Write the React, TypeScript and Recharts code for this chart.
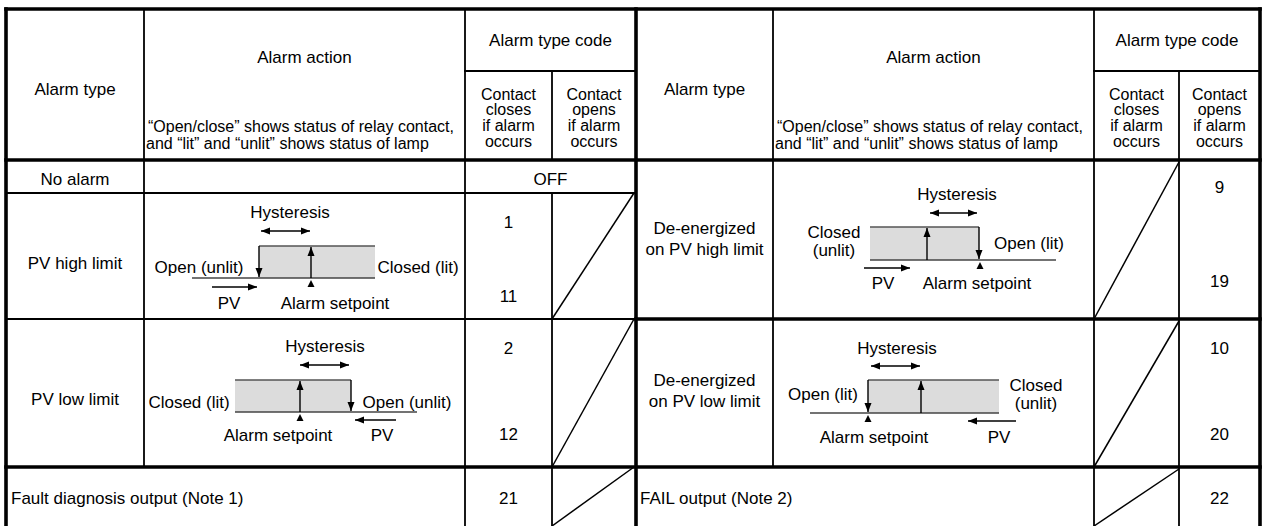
import { ReferenceArea, ReferenceLine, Scatter, ScatterChart, XAxis, YAxis } from 'recharts'

// ---- table content ----
const HEADER_TYPE = 'Alarm type'
const HEADER_ACTION = 'Alarm action'
const HEADER_NOTE = [
  '“Open/close” shows status of relay contact,',
  'and “lit” and “unlit” shows status of lamp',
]
const HEADER_CODE = 'Alarm type code'
const CONTACT_CLOSES = ['Contact', 'closes', 'if alarm', 'occurs']
const CONTACT_OPENS = ['Contact', 'opens', 'if alarm', 'occurs']

const LEFT_TYPES = ['No alarm', 'PV high limit', 'PV low limit']
const RIGHT_TYPES = [
  ['De-energized', 'on PV high limit'],
  ['De-energized', 'on PV low limit'],
]
const NO_ALARM_CODE = 'OFF'
const LEFT_CODES = [['1', '11'], ['2', '12']] // contact closes
const RIGHT_CODES = [['9', '19'], ['10', '20']] // contact opens
const FOOTER_TYPES = ['Fault diagnosis output (Note 1)', 'FAIL output (Note 2)']
const FOOTER_CODES = ['21', '22']

const HYSTERESIS = 'Hysteresis'
const PV = 'PV'
const SETPOINT = 'Alarm setpoint'
const STATES = [
  [['Open (unlit)'], ['Closed (lit)']],
  [['Closed (lit)'], ['Open (unlit)']],
  [['Closed', '(unlit)'], ['Open (lit)']],
  [['Open (lit)'], ['Closed', '(unlit)']],
]

// ---- layout (pixels, chart scale is 1:1) ----
const W = 1264
const H = 526
const FONT = "'Liberation Sans', Arial, Helvetica, sans-serif"
const X = { L: 6, c1: 144, c2: 465, c3: 552, M: 636, c5: 773, c6: 1094, c7: 1179, R: 1260 }
const Y = { T: 9, split: 71, H: 160, r1: 193, r2: 319, r3: 467, B: 526 }
const THICK = 3.6
const THIN = 1.8

const GRID = [
  [X.L, Y.T, X.R, Y.T, THICK],
  [X.L, Y.H, X.R, Y.H, THICK],
  [X.L, Y.r3, X.R, Y.r3, THICK],
  [X.M, Y.r2, X.R, Y.r2, THICK],
  [X.L, Y.r2, X.M, Y.r2, THIN],
  [X.L, Y.r1, X.M, Y.r1, THIN],
  [X.c2, Y.split, X.M, Y.split, THIN],
  [X.c6, Y.split, X.R, Y.split, THIN],
  [X.L, Y.T, X.L, Y.B, THICK],
  [X.M, Y.T, X.M, Y.B, THICK],
  [X.R, Y.T, X.R, Y.B, THICK],
  [X.c1, Y.T, X.c1, Y.r3, THIN],
  [X.c2, Y.T, X.c2, Y.B, THIN],
  [X.c3, Y.split, X.c3, Y.H, THIN],
  [X.c3, Y.r1, X.c3, Y.B, THIN],
  [X.c5, Y.T, X.c5, Y.r3, THIN],
  [X.c6, Y.T, X.c6, Y.B, THIN],
  [X.c7, Y.split, X.c7, Y.B, THIN],
]

const DIAGONALS = [
  [X.c3, Y.r2, X.M - 2, Y.r1],
  [X.c3, Y.r3, X.M - 2, Y.r2],
  [X.c3, Y.B, X.M - 2, Y.r3],
  [X.c6, Y.r2, X.c7, Y.H + 2],
  [X.c6, Y.r3, X.c7, Y.r2 + 2],
  [X.c6, Y.B, X.c7, Y.r3 + 2],
]

// box: [x1, x2, top, bottom], base: baseline x range, down/up: arrow x, sp: setpoint marker x
const DIAGRAMS = [
  { box: [259, 375, 246, 278], base: [192, 375], down: 259, up: 311, sp: 311, hyst: [261, 310, 231], hystText: [290, 212], pv: [212, 257, 287], pvText: [229, 303], spText: [335, 303], states: [[199, 267], [418, 267]] },
  { box: [235, 351, 380, 412], base: [235, 417], down: 351, up: 300, sp: 300, hyst: [300, 349, 365], hystText: [325, 346], pv: [396, 355, 420], pvText: [382, 435], spText: [278, 435], states: [[189, 402], [407, 402]] },
  { box: [870, 979, 227, 260], base: [870, 1056], down: 979, up: 927, sp: 980, hyst: [930, 977, 213], hystText: [957, 194], pv: [864, 910, 268], pvText: [883, 283], spText: [977, 283], states: [[834, 241], [1029, 243]] },
  { box: [868, 999, 380, 413], base: [810, 999], down: 868, up: 921, sp: 868, hyst: [871, 920, 366], hystText: [897, 348], pv: [1016, 968, 421], pvText: [999, 437], spText: [874, 437], states: [[823, 394], [1036, 394]] },
]

const mid = (a: number, b: number) => (a + b) / 2

function buildLabels() {
  const out: any[] = []
  const add = (text: string, x: number, y: number, extra: any = {}) => out.push({ text, x, y, ...extra })

  const halves = [
    { L: X.L, c1: X.c1, c2: X.c2, c3: X.c3, R: X.M, noteX: 148 },
    { L: X.M, c1: X.c5, c2: X.c6, c3: X.c7, R: X.R, noteX: 777 },
  ]
  halves.forEach((h) => {
    add(HEADER_TYPE, mid(h.L, h.c1), 89)
    add(HEADER_ACTION, mid(h.c1, h.c2), 57)
    add(HEADER_NOTE[0], h.noteX, 126, { anchor: 'start', size: 16 })
    add(HEADER_NOTE[1], h.noteX - 2, 143, { anchor: 'start', size: 16 })
    add(HEADER_CODE, mid(h.c2, h.R), 40)
    CONTACT_CLOSES.forEach((t, i) => add(t, mid(h.c2, h.c3), 94 + i * 15.7, { size: 16 }))
    CONTACT_OPENS.forEach((t, i) => add(t, mid(h.c3, h.R), 94 + i * 15.7, { size: 16 }))
  })

  add(LEFT_TYPES[0], mid(X.L, X.c1), 179)
  add(NO_ALARM_CODE, mid(X.c2, X.M), 179)
  add(LEFT_TYPES[1], mid(X.L, X.c1), 263)
  add(LEFT_TYPES[2], mid(X.L, X.c1), 399)
  const leftCodeY = [[222, 296], [348, 434]]
  LEFT_CODES.forEach((pair, r) => pair.forEach((c, i) => add(c, mid(X.c2, X.c3), leftCodeY[r][i])))

  const rightTypeY = [228, 380]
  RIGHT_TYPES.forEach((lines, r) => lines.forEach((t, i) => add(t, mid(X.M, X.c5), rightTypeY[r] + i * 21)))
  const rightCodeY = [[187, 281], [348, 434]]
  RIGHT_CODES.forEach((pair, r) => pair.forEach((c, i) => add(c, mid(X.c7, X.R), rightCodeY[r][i])))

  add(FOOTER_TYPES[0], X.L + 5, 498, { anchor: 'start' })
  add(FOOTER_TYPES[1], X.M + 4, 498, { anchor: 'start' })
  add(FOOTER_CODES[0], mid(X.c2, X.c3), 498)
  add(FOOTER_CODES[1], mid(X.c7, X.R), 498)

  DIAGRAMS.forEach((d, k) => {
    add(HYSTERESIS, d.hystText[0], d.hystText[1])
    add(PV, d.pvText[0], d.pvText[1])
    add(SETPOINT, d.spText[0], d.spText[1])
    STATES[k].forEach((lines, s) => {
      const [sx, sy] = d.states[s]
      lines.forEach((t, i) => add(t, sx, sy + (i - (lines.length - 1) / 2) * 18))
    })
  })
  return out
}

function buildArrows() {
  const lines: number[][] = []
  const heads: any[] = []
  DIAGRAMS.forEach((d) => {
    const [, , top, bottom] = d.box
    lines.push([d.down, top, d.down, bottom - 1])
    heads.push({ x: d.down, y: bottom - 1, dir: 'down' })
    lines.push([d.up, bottom, d.up, top + 1])
    heads.push({ x: d.up, y: top + 1, dir: 'up' })
    const [h1, h2, hy] = d.hyst
    lines.push([h1, hy, h2, hy])
    heads.push({ x: h1, y: hy, dir: 'left' })
    heads.push({ x: h2, y: hy, dir: 'right' })
    const [p1, p2, py] = d.pv
    lines.push([p1, py, p2, py])
    heads.push({ x: p2, y: py, dir: p2 > p1 ? 'right' : 'left' })
    heads.push({ x: d.sp, y: bottom + 2, dir: 'up', len: 7, hw: 3.5 })
  })
  return { lines, heads }
}

const ROT: Record<string, number> = { right: 0, down: 90, left: 180, up: 270 }

const LabelShape = (p: any) => {
  const d = p.payload
  return (
    <text
      x={p.cx}
      y={p.cy}
      textAnchor={d.anchor || 'middle'}
      dominantBaseline="central"
      fontSize={d.size || 17}
      fontFamily={FONT}
      fill="#000"
    >
      {d.text}
    </text>
  )
}

const HeadShape = (p: any) => {
  const { dir, len = 9, hw = 3.5 } = p.payload
  const { cx, cy } = p
  return (
    <polygon
      points={`${cx},${cy} ${cx - len},${cy - hw} ${cx - len},${cy + hw}`}
      transform={`rotate(${ROT[dir]} ${cx} ${cy})`}
      fill="#000"
    />
  )
}

export default function App() {
  const labels = buildLabels()
  const { lines, heads } = buildArrows()

  return (
    <div style={{ position: 'absolute', left: 0, top: 0, width: W, height: H, background: '#fff' }}>
      <ScatterChart width={W} height={H} margin={{ top: 0, right: 0, bottom: 0, left: 0 }}>
        <XAxis type="number" dataKey="x" domain={[0, W]} hide allowDataOverflow />
        <YAxis type="number" dataKey="y" domain={[0, H]} reversed hide allowDataOverflow />

        {DIAGRAMS.map((d, i) => (
          <ReferenceArea
            key={`box-${i}`}
            x1={d.box[0]}
            x2={d.box[1]}
            y1={d.box[2]}
            y2={d.box[3]}
            fill="#dcdcdc"
            fillOpacity={1}
            stroke="none"
            ifOverflow="visible"
          />
        ))}
        {DIAGRAMS.map((d, i) => (
          <ReferenceLine
            key={`top-${i}`}
            segment={[{ x: d.box[0], y: d.box[2] }, { x: d.box[1], y: d.box[2] }]}
            stroke="#555"
            strokeWidth={1.5}
            ifOverflow="visible"
          />
        ))}
        {DIAGRAMS.map((d, i) => (
          <ReferenceLine
            key={`base-${i}`}
            segment={[{ x: d.base[0], y: d.box[3] }, { x: d.base[1], y: d.box[3] }]}
            stroke="#444"
            strokeWidth={1.5}
            ifOverflow="visible"
          />
        ))}
        {lines.map(([x1, y1, x2, y2], i) => (
          <ReferenceLine
            key={`arr-${i}`}
            segment={[{ x: x1, y: y1 }, { x: x2, y: y2 }]}
            stroke="#000"
            strokeWidth={1.4}
            ifOverflow="visible"
          />
        ))}
        {GRID.map(([x1, y1, x2, y2, w], i) => (
          <ReferenceLine
            key={`grid-${i}`}
            segment={[{ x: x1, y: y1 }, { x: x2, y: y2 }]}
            stroke="#000"
            strokeWidth={w}
            strokeLinecap="square"
            ifOverflow="visible"
          />
        ))}
        {DIAGONALS.map(([x1, y1, x2, y2], i) => (
          <ReferenceLine
            key={`diag-${i}`}
            segment={[{ x: x1, y: y1 }, { x: x2, y: y2 }]}
            stroke="#000"
            strokeWidth={1.5}
            ifOverflow="visible"
          />
        ))}

        <Scatter data={heads} shape={HeadShape} isAnimationActive={false} />
        <Scatter data={labels} shape={LabelShape} isAnimationActive={false} />
      </ScatterChart>
    </div>
  )
}
